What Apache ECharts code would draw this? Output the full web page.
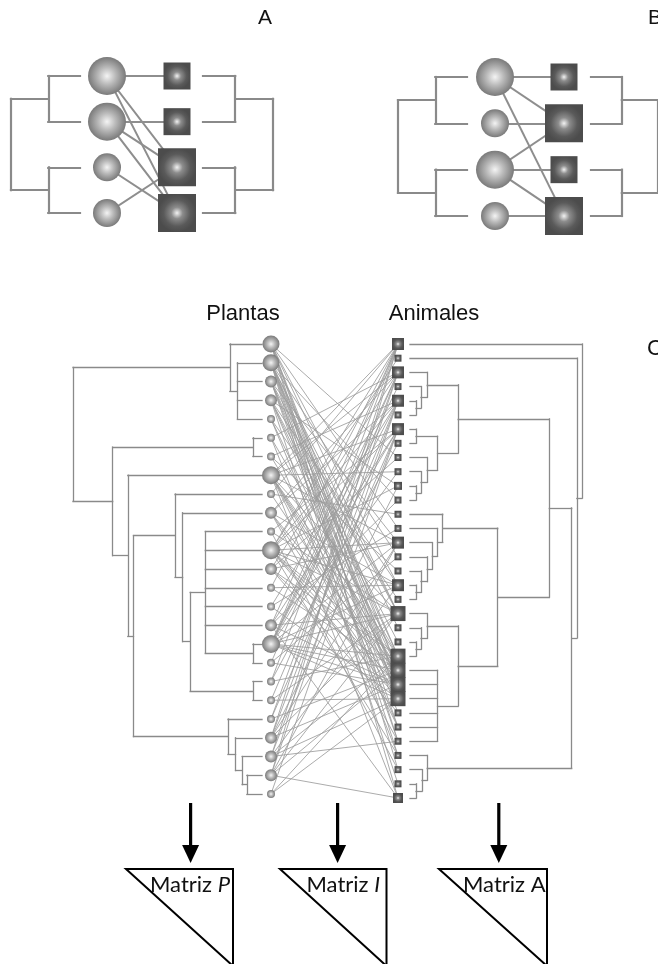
<!DOCTYPE html>
<html><head><meta charset="utf-8">
<script src="https://cdn.jsdelivr.net/npm/echarts@6/dist/echarts.min.js"></script>
<style>html,body{margin:0;padding:0;background:#fff}#c{width:658px;height:964px}</style>
</head><body><div id="c"></div>
<script>
// ================= DATA =================
// Panels A and B : 4 plants (circles) x 4 animals (squares)
const smallTree = [1.0, [[0.46, [0, 1]], [0.46, [2, 3]]]];   // [height, children]
const plantSizeA  = [38, 38, 28, 28];
const animalSizeA = [27, 27, 38, 38];
const linksA = [[0,0],[0,2],[0,3],[1,1],[1,2],[1,3],[2,3],[3,2]];   // [plant, animal]
const plantSizeB  = [38, 28, 38, 28];
const animalSizeB = [27, 38, 27, 38];
const linksB = [[0,0],[0,1],[0,3],[1,1],[2,1],[2,2],[2,3],[3,3]];

// Panel C : 25 plants, 33 animals
const plantSizeC  = [17,17,12,12,8,8,8,18,8,12,8,18,12,8,8,12,18,8,8,8,8,12,12,12,8];
const animalSizeC = [12,7,12,7,12,7,12,7,7,7,8,7,7,7,12,7,7,12,7,15,7,7,15,15,15,15,7,7,7,7,7,7,10];

// phylogenies: [node height, [children]] ; leaves are 0-based indices
const plantTree = [1.0, [
  [0.17, [0, [0.13, [1, 2, 3, 4]]]],
  [0.79, [
    [0.048, [5, 6]],
    [0.71, [7,
      [0.68, [
        [0.46, [8, [0.42, [9, [0.38, [
            [0.30, [10, 11, 12, 13, 14, 15, [0.048, [16, 17]]]],
            [0.048, [18, 19]]
        ]]]]]],
        [0.18, [20, [0.14, [21, [0.105, [22, [0.08, [23, 24]]]]]]]]
      ]]
    ]]
  ]]
]];

const animalUpper = [0.28, [
  [0.10, [2, [0.064, [3, [0.035, [4, 5]]]]]],
  [0.16, [[0.035, [6, 7]], [0.10, [8, [0.064, [9, [0.035, [10, 11]]]]]]]]
]];
const animalLadder = [0.19, [12, [0.16, [13, [0.13, [14, [0.10, [15, [0.064, [16, [0.035, [17, 18]]]]]]]]]]]];
const animalLower = [0.28, [
  [0.10, [19, [0.064, [20, [0.035, [21, 22]]]]]],
  [0.16, [23, 24, 25, 26, 27, 28]]
]];
const animalBottom = [0.10, [29, [0.07, [30, [0.035, [31, 32]]]]]];
const animalTree = [1.0, [0, [0.97, [1, [0.94, [
  [0.81, [animalUpper, [0.51, [animalLadder, animalLower]]]],
  animalBottom
]]]]]];

// interactions: plant (1-based) -> animals (1-based)
const linksC = [
  [9,14,18,20,24,25,26,29,31],
  [12,16,20,21,23,24,25,26,28,30,33],
  [15,20,23,25,27,29],
  [11,18,22,24,26,32],
  [19,25,28],
  [3,23,30],
  [5,17,24],
  [1,3,7,10,15,20,23,24,25,26,28,33],
  [1,13,25],
  [3,5,18,24,26,29],
  [7,20,31],
  [1,2,5,7,11,15,18,20,23,24,25,26,30],
  [3,9,15,23,25,27],
  [1,18,24],
  [5,14,26],
  [1,7,12,20,25,33],
  [1,3,4,5,7,10,15,18,20,23,24,25,26],
  [3,16,25],
  [1,8,23],
  [5,20,26],
  [3,7,24],
  [1,5,11,15,20,25],
  [3,7,18,23,26,29],
  [1,5,15,20,24,33],
  [7,23,26]
];

const matrixLabels = ['Matriz {i|P}', 'Matriz {i|I}', 'Matriz A'];

// ================= BUILD =================
const grids = [], xAxes = [], yAxes = [], series = [];
function addGrid(left, top, width, height, inverseX) {
  const idx = grids.length;
  grids.push({left: left, top: top, width: width, height: height, show: false});
  xAxes.push({type: 'value', gridIndex: idx, min: 0, max: 1, inverse: !!inverseX, show: false});
  yAxes.push({type: 'value', gridIndex: idx, min: 0, max: 1, inverse: true, show: false});
  return idx;
}
function treeSegments(tree, n, span) {
  const segs = [];
  function walk(node) {
    if (typeof node === 'number') return {y: span * node / (n - 1), h: 0};
    const h = node[0], kids = node[1].map(walk);
    const y0 = kids[0].y, y1 = kids[kids.length - 1].y;
    segs.push([[h, y0], [h, y1]]);
    kids.forEach(k => segs.push([[h, k.y], [k.h, k.y]]));
    return {y: (y0 + y1) / 2, h: h};
  }
  walk(tree);
  return segs;
}
const circleGrad = {type: 'radial', x: 0.5, y: 0.5, r: 0.5, colorStops: [
  {offset: 0, color: '#f4f4f4'}, {offset: 0.45, color: '#bababa'}, {offset: 0.9, color: '#858585'}, {offset: 1, color: '#7a7a7a'}]};
const squareGrad = {type: 'radial', x: 0.5, y: 0.5, r: 0.5, colorStops: [
  {offset: 0, color: '#f2f2f2'}, {offset: 0.3, color: '#8c8c8c'}, {offset: 0.7, color: '#5a5a5a'}, {offset: 1, color: '#4c4c4c'}]};

function linesSeries(g, segs, color, width, z) {
  series.push({type: 'lines', coordinateSystem: 'cartesian2d', xAxisIndex: g, yAxisIndex: g,
    polyline: false, silent: true, clip: false, animation: false, z: z,
    lineStyle: {color: color, width: width, opacity: 1, curveness: 0, cap: 'square'},
    data: segs.map(c => ({coords: c}))});
}
function panel(cfg) {
  const gL = addGrid(cfg.xRootL, cfg.top, cfg.xLeafL - cfg.xRootL, cfg.height, true);
  const gM = addGrid(cfg.xPlant, cfg.top, cfg.xAnimal - cfg.xPlant, cfg.height, false);
  const gR = addGrid(cfg.xLeafR, cfg.top, cfg.xRootR - cfg.xLeafR, cfg.height, false);
  const nP = cfg.plantSize.length, nA = cfg.animalSize.length, pS = cfg.plantSpan || 1;
  linesSeries(gL, treeSegments(cfg.plantTree, nP, pS), '#8a8a8a', cfg.treeW, 2);
  linesSeries(gR, treeSegments(cfg.animalTree, nA, 1), '#8a8a8a', cfg.treeW, 2);
  linesSeries(gM, cfg.links.map(l => [[0, pS * l[0] / (nP - 1)], [1, l[1] / (nA - 1)]]), cfg.linkColor, cfg.linkW, 2);
  series.push({type: 'scatter', xAxisIndex: gM, yAxisIndex: gM, symbol: 'circle', silent: true, clip: false,
    animation: false, z: 4, itemStyle: {color: circleGrad, opacity: 1},
    data: cfg.plantSize.map((s, i) => ({value: [0, pS * i / (nP - 1)], symbolSize: s}))});
  series.push({type: 'scatter', xAxisIndex: gM, yAxisIndex: gM, symbol: 'rect', silent: true, clip: false,
    animation: false, z: 4, itemStyle: {color: squareGrad, opacity: 1},
    data: cfg.animalSize.map((s, i) => ({value: [1, i / (nA - 1)], symbolSize: s}))});
}

panel({top: 76, height: 137, xRootL: 11, xLeafL: 80, xPlant: 107, xAnimal: 177, xLeafR: 203, xRootR: 273,
  plantTree: smallTree, animalTree: smallTree, plantSize: plantSizeA, animalSize: animalSizeA,
  links: linksA, treeW: 2.2, linkW: 2, linkColor: '#8e8e8e'});
panel({top: 77, height: 139, xRootL: 398, xLeafL: 467, xPlant: 495, xAnimal: 564, xLeafR: 591, xRootR: 661,
  plantTree: smallTree, animalTree: smallTree, plantSize: plantSizeB, animalSize: animalSizeB,
  links: linksB, treeW: 2.2, linkW: 2, linkColor: '#8e8e8e'});
const pairsC = [];
linksC.forEach((arr, p) => arr.forEach(a => pairsC.push([p, a - 1])));
panel({top: 344, height: 454, plantSpan: 450 / 454, xRootL: 73, xLeafL: 262, xPlant: 271, xAnimal: 398, xLeafR: 410, xRootR: 582,
  plantTree: plantTree, animalTree: animalTree, plantSize: plantSizeC, animalSize: animalSizeC,
  links: pairsC, treeW: 1.3, linkW: 0.85, linkColor: '#9c9c9c'});

// ---- annotations ----
const sans = '"Liberation Sans", Arial, sans-serif';
function label(text, x, y, size, align) {
  return {type: 'text', x: x, y: y, silent: true, z: 10,
    style: {text: text, fontSize: size, fontFamily: sans, fill: '#111', textAlign: align || 'center',
      verticalAlign: 'middle', textVerticalAlign: 'middle'}};
}
const graphic = [
  label('A', 265, 18, 21), label('B', 648, 18, 21, 'left'),
  label('Plantas', 243, 314, 22), label('Animales', 434, 314, 22), label('C', 647, 349, 22, 'left')
];
const arrowX = [190.6, 337.6, 498.8];
const triLeft = [126, 280, 439], triRight = [233, 386.5, 547];
const textLeft = [150, 306.5, 463];
arrowX.forEach(x => {
  graphic.push({type: 'line', silent: true, shape: {x1: x, y1: 803, x2: x, y2: 848}, style: {stroke: '#000', lineWidth: 3.2}});
  graphic.push({type: 'polygon', silent: true, shape: {points: [[x - 8.5, 845], [x + 8.5, 845], [x, 863]]}, style: {fill: '#000'}});
});
matrixLabels.forEach((t, i) => {
  graphic.push({type: 'polygon', silent: true, shape: {points: [[triLeft[i], 869], [triRight[i], 869], [triRight[i], 966]]},
    style: {fill: 'none', stroke: '#000', lineWidth: 2}});
  graphic.push({type: 'text', silent: true, x: textLeft[i], y: 885, z: 10,
    style: {text: t, fontSize: 22, fontFamily: 'Lato, sans-serif', fill: '#111', textAlign: 'left',
      verticalAlign: 'middle', textVerticalAlign: 'middle',
      rich: {i: {fontStyle: 'italic', fontSize: 22, fontFamily: 'Lato, sans-serif', fill: '#111'}}}});
});

const chart = echarts.init(document.getElementById('c'), null, {renderer: 'canvas', width: 658, height: 964});
chart.setOption({
  backgroundColor: '#fff', animation: false,
  grid: grids, xAxis: xAxes, yAxis: yAxes, series: series, graphic: graphic
});
</script></body></html>
